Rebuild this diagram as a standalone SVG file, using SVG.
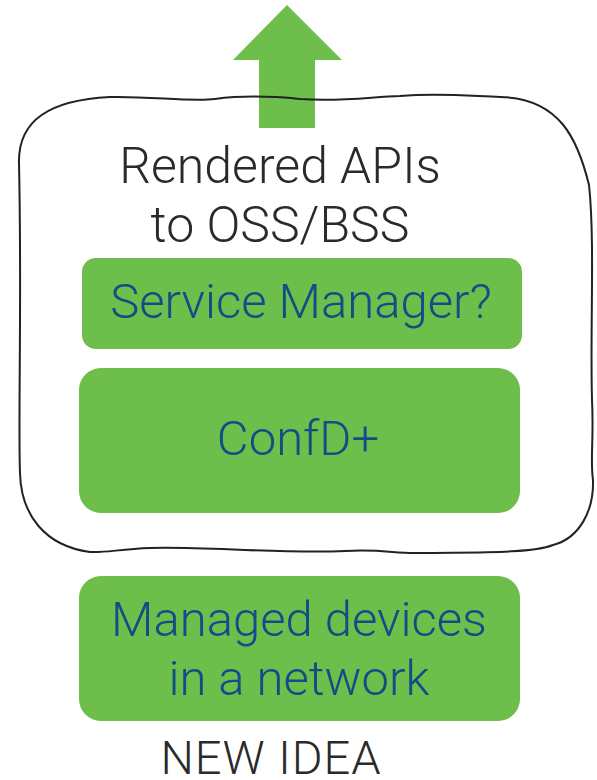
<svg xmlns="http://www.w3.org/2000/svg" width="597" height="780" viewBox="0 0 597 780">
<style>
.box{fill:#6dbe4b}
.lbl{font-family:Roboto,"Liberation Sans",sans-serif;font-weight:300;fill:#0f4e86;text-anchor:middle}
.dark{font-family:Roboto,"Liberation Sans",sans-serif;font-weight:300;fill:#2a2a2a;text-anchor:middle}
</style>
<rect width="597" height="780" fill="#fff"/>
<g id="arrow">
<polygon class="box" points="287,5 342,60 315,60 315,128 259,128 259,60 233,60"/>
</g>
<g id="container">
<path d="M110,97 C150,96 190,102 215,99 C245,95 270,96 300,99 C340,102 370,97 400,96 C440,93 470,96 500,97 C560,98 578,140 589,185 C595,240 590,330 592,400 C594,440 590,460 593,480 C594,510 580,538 553,545 C530,554 470,552 420,553 C395,554 385,549 345,551 C280,554 200,546 150,548 C120,549 105,553 90,552 C45,546 21,515 20,473 C18,420 22,300 19,163 C18,120 50,100 110,97 Z" fill="none" stroke="#222" stroke-width="2"/>
<text class="dark" x="280" y="183" font-size="50">Rendered APIs</text>
<text class="dark" x="280" y="242" font-size="50">to OSS/BSS</text>
</g>
<g id="service-manager">
<rect class="box" x="82" y="258" width="440" height="91" rx="14"/>
<text class="lbl" x="301" y="318" font-size="49">Service Manager?</text>
</g>
<g id="confd">
<rect class="box" x="79" y="368" width="441" height="145" rx="22"/>
<text class="lbl" x="298" y="455" font-size="49">ConfD+</text>
</g>
<g id="managed-devices">
<rect class="box" x="79" y="576" width="441" height="145" rx="22"/>
<text class="lbl" x="299" y="636" font-size="49">Managed devices</text>
<text class="lbl" x="299" y="695" font-size="49">in a network</text>
</g>
<g id="caption">
<text class="dark" x="271" y="774" font-size="47" letter-spacing="1">NEW IDEA</text>
</g>
<g id="connectors"/>
</svg>
